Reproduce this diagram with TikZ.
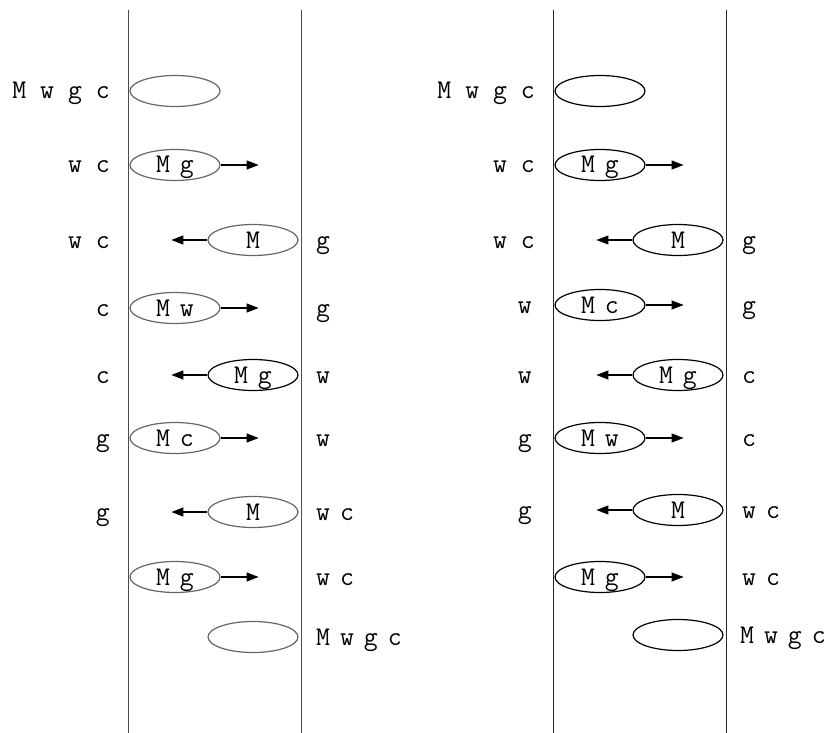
\documentclass[tikz,border=0pt]{standalone}
\usepackage{tikz}
\usetikzlibrary{positioning,shapes.geometric,arrows.meta}

\begin{document}
\begin{tikzpicture}[x=1pt, y=-1pt,
    every node/.style={font=\fontsize{27}{30}\ttfamily, text height=16pt, text depth=0pt},
    tight/.style={execute at begin node={\spaceskip=10pt\relax}},
    boat/.style={draw, ellipse, tight, inner sep=0pt, minimum width=90pt, minimum height=31pt, line width=1.2pt},
    oldboat/.style={boat, draw=black!60},
    newboat/.style={boat, draw=black},
    bank/.style={line width=0.9pt},
    here/.style={anchor=east, inner sep=0pt},
    there/.style={anchor=west, inner sep=0pt, tight},
    move/.style={line width=1.2pt, -{Triangle[length=12pt,width=9pt]}}
]
\useasboundingbox (0,0) rectangle (833,733);

% river banks
\draw[bank, black!70] (128,10) -- (128,733);
\draw[bank, black!70] (301,10) -- (301,733);
\draw[bank, black!85] (553,10) -- (553,733);
\draw[bank, black!85] (726,10) -- (726,733);

% first solution
\node[here] (a1) at (110,91) {M w g c};
\node[oldboat] (b1) at (175,91) {};

\node[here] (a2) at (110,165) {w c};
\node[oldboat] (b2) at (175,165) {M g};
\coordinate[right=38pt of b2] (t2);
\draw[move] (b2) -- (t2);

\node[here] (a3) at (110,240) {w c};
\node[oldboat] (b3) at (253,240) {M};
\coordinate[left=36pt of b3] (t3);
\draw[move] (b3) -- (t3);
\node[there] (c3) at (316,240) {g};

\node[here] (a4) at (110,308) {c};
\node[oldboat] (b4) at (175,308) {M w};
\coordinate[right=38pt of b4] (t4);
\draw[move] (b4) -- (t4);
\node[there] (c4) at (316,308) {g};

\node[here] (a5) at (110,375) {c};
\node[newboat] (b5) at (253,375) {M g};
\coordinate[left=36pt of b5] (t5);
\draw[move] (b5) -- (t5);
\node[there] (c5) at (316,375) {w};

\node[here] (a6) at (110,438) {g};
\node[oldboat] (b6) at (175,438) {M c};
\coordinate[right=38pt of b6] (t6);
\draw[move] (b6) -- (t6);
\node[there] (c6) at (316,438) {w};

\node[here] (a7) at (110,512) {g};
\node[oldboat] (b7) at (253,512) {M};
\coordinate[left=36pt of b7] (t7);
\draw[move] (b7) -- (t7);
\node[there] (c7) at (316,512) {w c};

\node[oldboat] (b8) at (175,577) {M g};
\coordinate[right=38pt of b8] (t8);
\draw[move] (b8) -- (t8);
\node[there] (c8) at (316,577) {w c};

\node[oldboat] (b9) at (253,637) {};
\node[there] (c9) at (316,637) {M w g c};

% second solution
\node[here] (p1) at (535,91) {M w g c};
\node[newboat] (q1) at (600,91) {};

\node[here] (p2) at (535,165) {w c};
\node[newboat] (q2) at (600,165) {M g};
\coordinate[right=38pt of q2] (u2);
\draw[move] (q2) -- (u2);

\node[here] (p3) at (535,240) {w c};
\node[newboat] (q3) at (678,240) {M};
\coordinate[left=36pt of q3] (u3);
\draw[move] (q3) -- (u3);
\node[there] (r3) at (742,240) {g};

\node[here] (p4) at (532,305) {w};
\node[newboat] (q4) at (600,305) {M c};
\coordinate[right=38pt of q4] (u4);
\draw[move] (q4) -- (u4);
\node[there] (r4) at (742,305) {g};

\node[here] (p5) at (532,375) {w};
\node[newboat] (q5) at (678,375) {M g};
\coordinate[left=36pt of q5] (u5);
\draw[move] (q5) -- (u5);
\node[there] (r5) at (742,375) {c};

\node[here] (p6) at (532,438) {g};
\node[newboat] (q6) at (600,438) {M w};
\coordinate[right=38pt of q6] (u6);
\draw[move] (q6) -- (u6);
\node[there] (r6) at (742,438) {c};

\node[here] (p7) at (532,510) {g};
\node[newboat] (q7) at (678,510) {M};
\coordinate[left=36pt of q7] (u7);
\draw[move] (q7) -- (u7);
\node[there] (r7) at (742,510) {w c};

\node[newboat] (q8) at (600,577) {M g};
\coordinate[right=38pt of q8] (u8);
\draw[move] (q8) -- (u8);
\node[there] (r8) at (742,577) {w c};

\node[newboat] (q9) at (678,635) {};
\node[there] (r9) at (740,635) {M w g c};
\end{tikzpicture}
\end{document}
